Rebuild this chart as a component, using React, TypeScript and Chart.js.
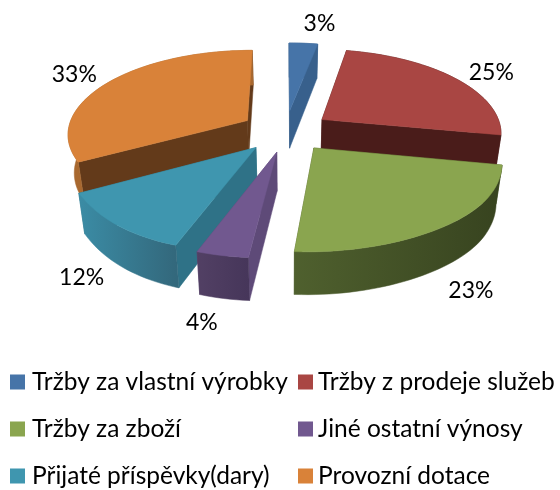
import React, { useEffect, useRef } from "react";
import { Chart, registerables } from "chart.js";

Chart.register(...registerables);

const categories = [
  "Tržby za vlastní výrobky",
  "Tržby z prodeje služeb",
  "Tržby za zboží",
  "Jiné ostatní výnosy",
  "Přijaté příspěvky(dary)",
  "Provozní dotace",
];
const percentages = [3, 25, 23, 4, 12, 33];

const topColors = ["#4674a8", "#a94643", "#8aa54f", "#71588f", "#3f96af", "#d98239"];
const wallColors = ["#38608c", "#4a1c1a", "#4a5a2a", "#5e4a78", "#2f7287", "#633a1a"];
const rimLeftColors = ["#38608c", "#4a1c1a", "#4f602e", "#524064", "#3b8ca5", "#a8682f"];
const rimRightColors = ["#38608c", "#4a1c1a", "#37431f", "#46365a", "#33687c", "#a8682f"];
const drawOrder = [0, 5, 1, 4, 2, 3];
const labelNudges = [
  [16, -20],
  [37, -5],
  [28, 63],
  [-20, 67],
  [-34, 53],
  [-34, -8],
];

const EXPLODE = 0.25;
const PERSPECTIVE = 0.1456;
const FONT_FAMILY = "Lato, 'Open Sans', sans-serif";

type Pt = { x: number; y: number };

function project(arc: any, theta: number, r: number, midTheta: number): Pt {
  const u = r * Math.sin(theta) + EXPLODE * Math.sin(midTheta);
  const v = -r * Math.cos(theta) - EXPLODE * Math.cos(midTheta);
  const s = 1 / (1 - PERSPECTIVE * v);
  const k = arc.outerRadius / 131;
  const frontShift = v > 0.7 ? 44 * (v - 0.7) * (v - 0.7) : 0;
  return {
    x: arc.x + k * 180 * u * s - frontShift,
    y: arc.y + k * 83.3 * v * s,
  };
}

function lower(p: Pt, v: number): Pt {
  return { x: 290 + (p.x - 290) * 0.972, y: p.y + 38 + (4 * v) / 1.2 };
}

function fillPoly(ctx: CanvasRenderingContext2D, pts: Pt[], fill: string | CanvasGradient) {
  ctx.beginPath();
  pts.forEach((p, i) => (i ? ctx.lineTo(p.x, p.y) : ctx.moveTo(p.x, p.y)));
  ctx.closePath();
  ctx.fillStyle = fill;
  ctx.fill();
  ctx.strokeStyle = fill;
  ctx.lineWidth = 0.5;
  ctx.stroke();
}

const pie3d = {
  id: "pie3d",
  beforeDatasetsDraw(chart: any) {
    const ctx: CanvasRenderingContext2D = chart.ctx;
    const arcs = chart.getDatasetMeta(0).data;
    const downOf = (arc: any, p: Pt) => (p.y - arc.y) / (83.3 * (arc.outerRadius / 131));

    drawOrder.forEach((i) => {
      const arc = arcs[i].getProps(["x", "y", "startAngle", "endAngle", "outerRadius"], true);
      const a0 = arc.startAngle + Math.PI / 2;
      const a1 = arc.endAngle + Math.PI / 2;
      const mid = (a0 + a1) / 2;
      const apex = project(arc, 0, 0, mid);
      const steps = Math.max(4, Math.ceil((a1 - a0) * 30));
      const rim: Pt[] = [];
      for (let t = 0; t <= steps; t++) {
        rim.push(project(arc, a0 + ((a1 - a0) * t) / steps, 1, mid));
      }
      const low = (p: Pt) => lower(p, downOf(arc, p));
      const wallOf = (edge: Pt) => [apex, edge, low(edge), low(apex)];
      const startWall = wallOf(rim[0]);
      const endWall = wallOf(rim[steps]);
      if (Math.sin(a0) < 0) {
        fillPoly(ctx, endWall, wallColors[i]);
        fillPoly(ctx, startWall, wallColors[i]);
      } else {
        fillPoly(ctx, startWall, wallColors[i]);
        fillPoly(ctx, endWall, wallColors[i]);
      }
      const xs = rim.map((p) => p.x);
      const g = ctx.createLinearGradient(Math.min(...xs), 0, Math.max(...xs), 0);
      g.addColorStop(0, rimLeftColors[i]);
      g.addColorStop(1, rimRightColors[i]);
      fillPoly(ctx, [...rim, ...rim.map(low).reverse()], g);
      fillPoly(ctx, [apex, ...rim], topColors[i]);
    });
    return false;
  },
  afterDraw(chart: any) {
    const ctx: CanvasRenderingContext2D = chart.ctx;
    const arcs = chart.getDatasetMeta(0).data;
    ctx.save();
    ctx.fillStyle = "#000000";
    ctx.textBaseline = "middle";
    ctx.textAlign = "center";
    ctx.font = `23px ${FONT_FAMILY}`;
    percentages.forEach((value, i) => {
      const arc = arcs[i].getProps(["x", "y", "startAngle", "endAngle", "outerRadius"], true);
      const mid = (arc.startAngle + arc.endAngle) / 2 + Math.PI / 2;
      const p = project(arc, mid, 1, mid);
      ctx.fillText(`${value}%`, p.x + labelNudges[i][0], p.y + labelNudges[i][1]);
    });
    const colX = [10, 298];
    const colTextX = [32, 318];
    const rowY = [382, 429, 476];
    ctx.textAlign = "left";
    ctx.font = `24.5px ${FONT_FAMILY}`;
    categories.forEach((name, i) => {
      const x = colX[i % 2];
      const y = rowY[Math.floor(i / 2)];
      ctx.fillStyle = topColors[i];
      ctx.fillRect(x, y - 7.5, 15, 15);
      ctx.fillStyle = "#000000";
      ctx.fillText(name, colTextX[i % 2], y);
    });
    ctx.restore();
  },
};

export default function App() {
  const ref = useRef<HTMLCanvasElement>(null);
  useEffect(() => {
    const chart = new Chart(ref.current as HTMLCanvasElement, {
      type: "pie",
      data: {
        labels: categories,
        datasets: [
          {
            data: percentages,
            backgroundColor: topColors,
            borderWidth: 0,
            hoverBorderWidth: 0,
          },
        ],
      },
      options: {
        responsive: false,
        animation: false,
        layout: { padding: { left: 11, right: 0, top: 0, bottom: 228 } },
        plugins: { legend: { display: false }, tooltip: { enabled: false } },
      },
      plugins: [pie3d],
    } as any);
    return () => chart.destroy();
  }, []);
  return (
    <div style={{ position: "fixed", left: 0, top: 0, width: 560, height: 490, background: "#fff" }}>
      <canvas ref={ref} width={560} height={490} style={{ display: "block" }} />
    </div>
  );
}
